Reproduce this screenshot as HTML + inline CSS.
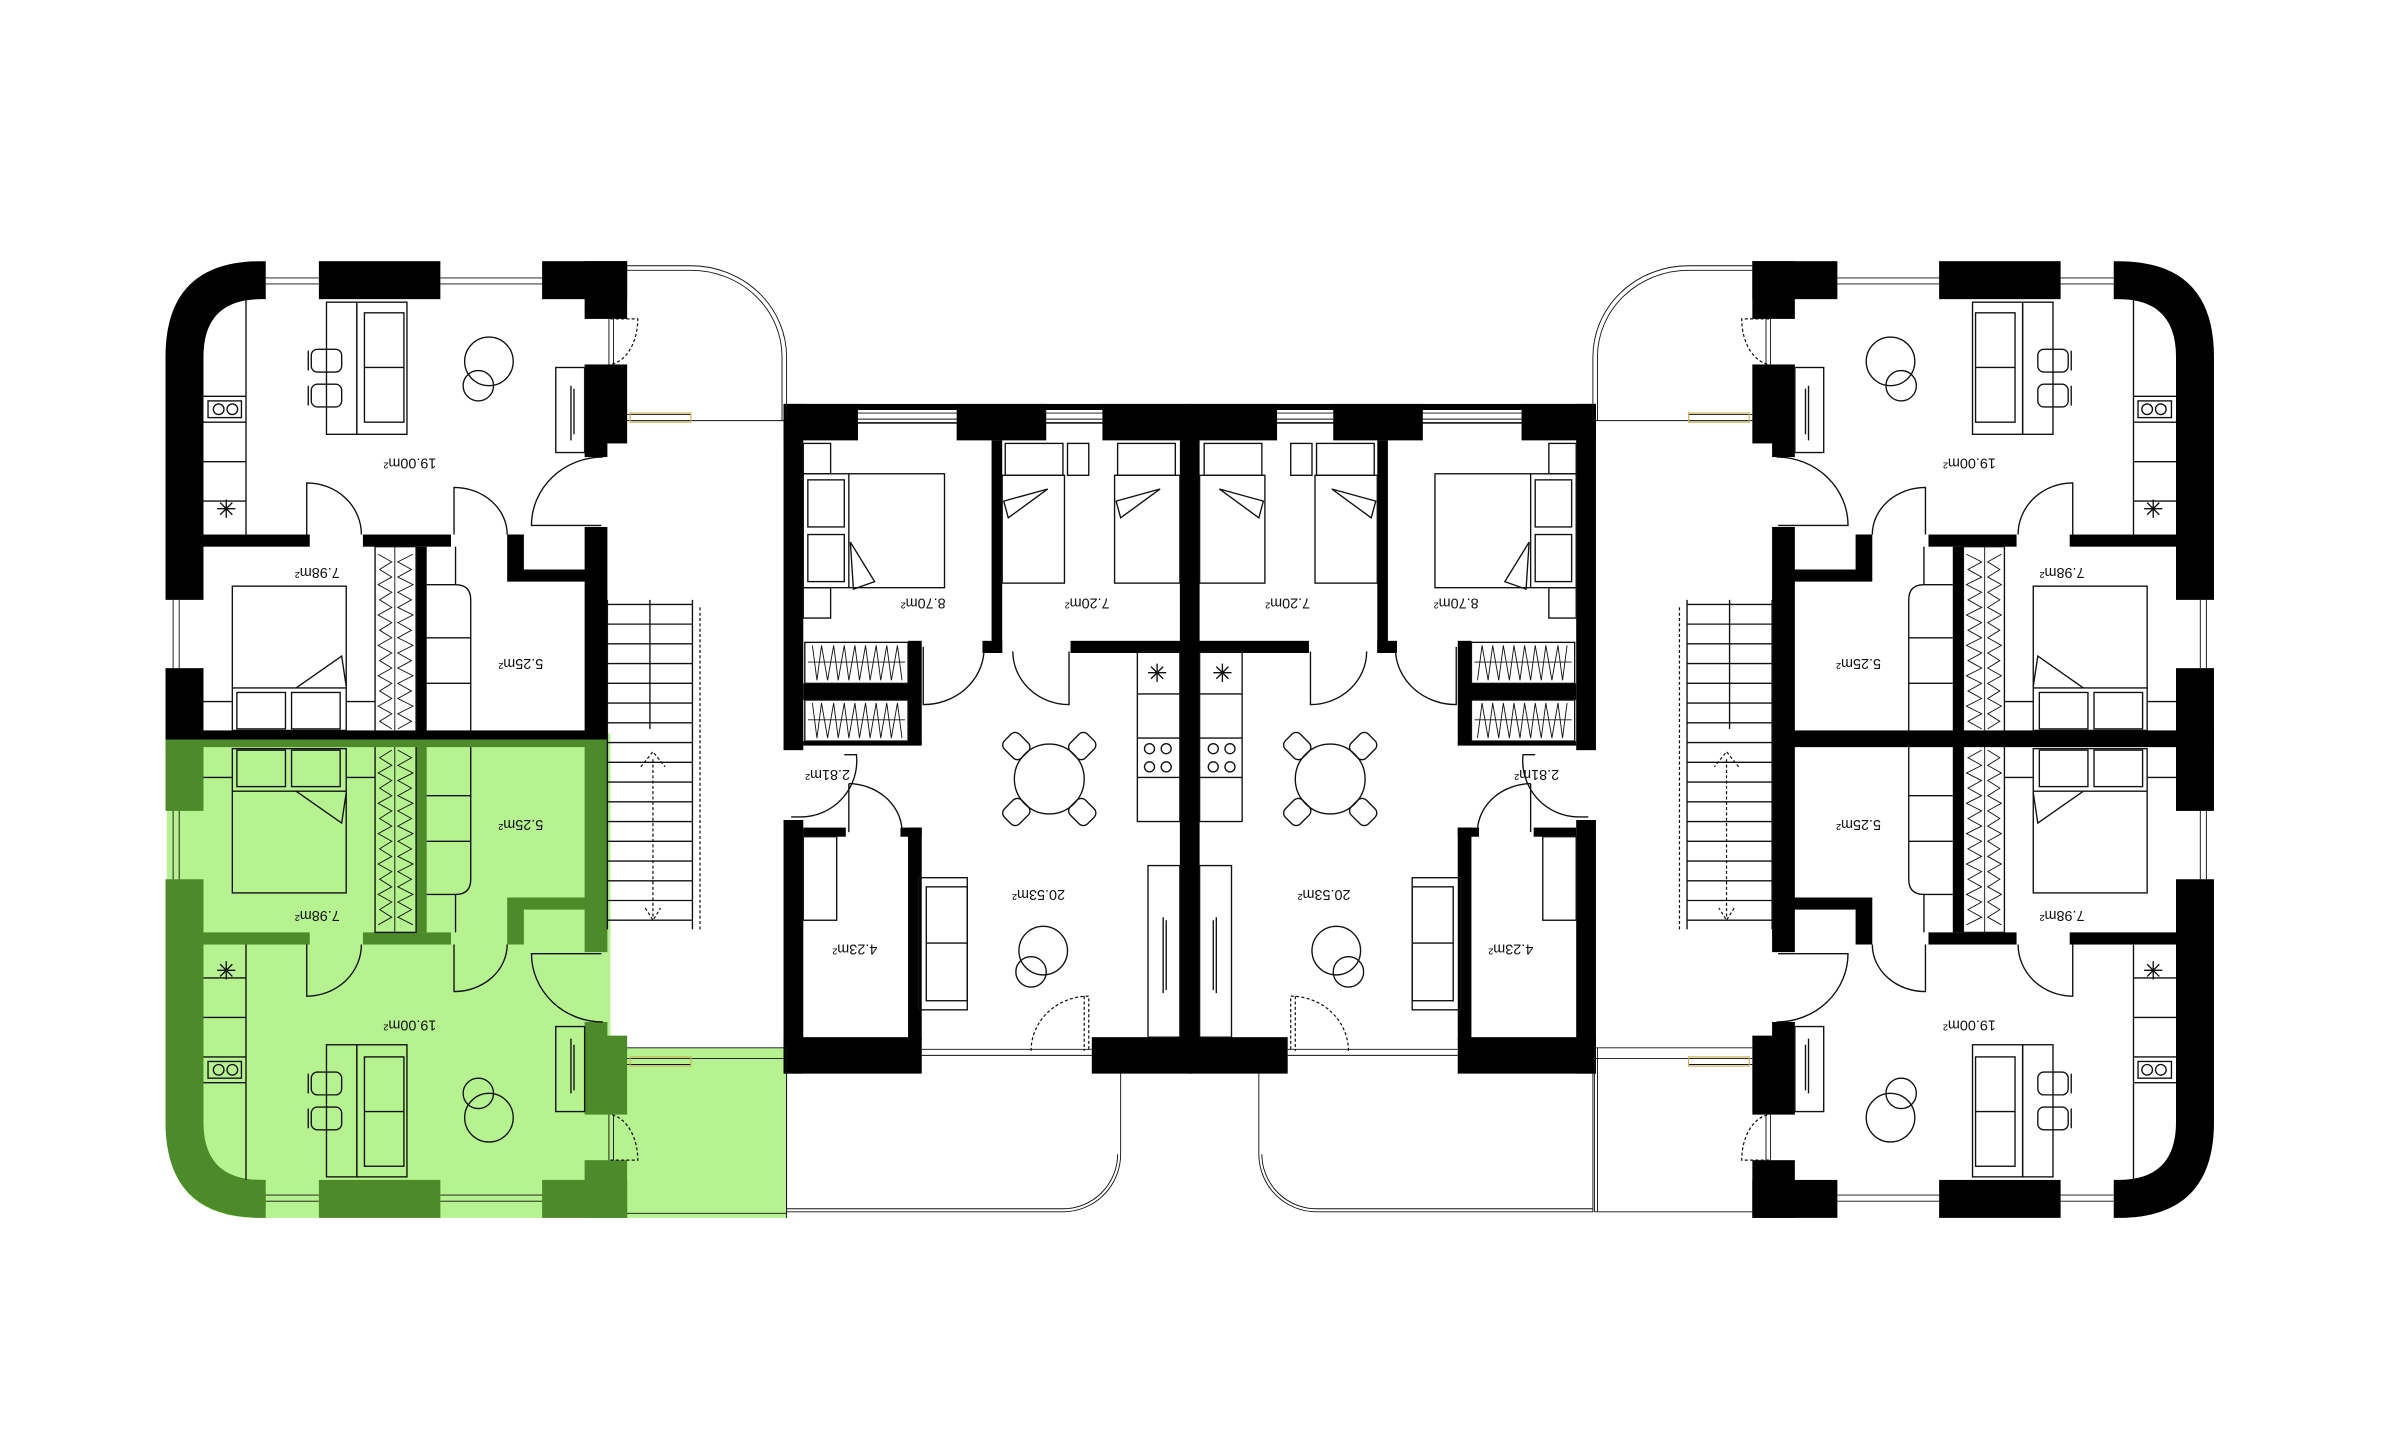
<!DOCTYPE html>
<html><head><meta charset="utf-8"><style>
html,body{margin:0;padding:0;background:#fff}
svg{display:block}
text{font-family:"Liberation Sans",sans-serif;font-size:9.5px;fill:#111}
.l{fill:none;stroke:#111;stroke-width:0.9}
.t{fill:none;stroke:#111;stroke-width:0.6}
.d{fill:none;stroke:#111;stroke-width:0.8;stroke-dasharray:2 1.5}
.w{fill:var(--w,#000)}
</style></head><body>
<svg width="2381" height="1437" viewBox="0 0 1568 946.3" preserveAspectRatio="none" xmlns="http://www.w3.org/2000/svg">
<defs>
<g id="apt">
  <path class="w" d="M109,395 V235 Q109,172 172,172 H175 V197 H172 Q134,197 134,235 V395 Z"/>
  <rect class="w" x="109" y="440" width="25" height="48"/>
  <rect class="w" x="210" y="172" width="80" height="25"/>
  <rect class="w" x="357" y="172" width="56" height="25"/>
  <rect class="w" x="385" y="172" width="28" height="38"/>
  <rect class="w" x="385" y="240" width="28" height="52"/>
  <rect class="w" x="385" y="290" width="15" height="11"/>
  <path class="t" d="M175,183 H210 M175,187 H210 M290,183 H357 M290,187 H357 M114,395 V440 M118,395 V440"/>
  <path class="t" d="M413,277 H518 M413,273 H455"/>
  <rect x="415" y="272" width="40" height="6" fill="none" stroke="#c9b45a" stroke-width="0.8"/>
  <path class="d" d="M402,210 H420 A 20 30 0 0 1 402,240"/>
  <path class="t" d="M401,210 V240 M404,210 V240"/>
  <rect class="w" x="134" y="352" width="70" height="8"/>
  <rect class="w" x="239" y="352" width="58" height="8"/>
  <path class="w" d="M334,352 H345 V375 H392 V383 H334 Z"/>
  <rect class="w" x="385" y="347" width="15" height="141"/>
  <rect class="w" x="274" y="360" width="7" height="128"/>
  <path class="l" d="M162,197 V352 M134,261 H162 M134,278 H162 M134,304 H162 M134,330 H162"/>
  <rect class="l" x="137" y="264" width="22" height="11"/>
  <circle class="l" cx="144" cy="269.5" r="3.5"/><circle class="l" cx="153" cy="269.5" r="3.5"/>
  <path class="l" d="M143,335 h12 M149,329 v12 M145,331 l8,8 M153,331 l-8,8"/>
  <rect class="l" x="215" y="199" width="20" height="87"/>
  <rect class="l" x="235" y="199" width="33" height="87"/>
  <rect class="l" x="240" y="206" width="26" height="72"/>
  <path class="l" d="M240,242 H266"/>
  <rect class="l" x="205" y="230" width="20" height="15" rx="4"/>
  <rect class="l" x="205" y="253" width="20" height="15" rx="4"/>
  <path class="l" d="M203,231 V244 M203,254 V267"/>
  <circle class="l" cx="315" cy="254" r="10" fill="#fff"/>
  <circle class="l" cx="322" cy="238" r="16" style="fill:transparent"/>
  <rect class="l" x="366" y="242" width="19" height="56"/>
  <path class="l" d="M376,254 V290 M378,256 V286"/>
  <path class="l" d="M202,352 V318 A 36 34 0 0 1 238,352"/>
  <path class="l" d="M299,352 V321 A 35 31 0 0 1 334,352"/>
  <path class="l" d="M397,301 A 47 45 0 0 0 350,346 H396"/>
  <rect class="l" x="153" y="386" width="75" height="95"/>
  <path class="l" d="M153,453 H228"/>
  <rect class="l" x="156" y="456" width="32" height="24"/>
  <rect class="l" x="192" y="456" width="32" height="24"/>
  <path class="l" d="M195,453 L225,432 L228,452"/>
  <path class="l" d="M134,462 H153 M228,462 H247"/>
  <rect class="l" x="247" y="360" width="27" height="128"/>
  <path class="t" d="M260,360 V488 M249,365 L258,370 L250,375 L258,380 L249,385 L258,390 L250,395 L258,400 L249,405 L258,410 L250,415 L258,420 L249,425 L258,430 L250,435 L258,440 L249,445 L258,450 L250,455 L258,460 L249,465 L258,470 L250,475 L258,480 M272,365 L262,370 L271,375 L262,380 L272,385 L262,390 L271,395 L262,400 L272,405 L262,410 L271,415 L262,420 L272,425 L262,430 L271,435 L262,440 L272,445 L262,450 L271,455 L262,460 L272,465 L262,470 L271,475 L262,480"/>
  <path class="l" d="M281,385 H300 Q310,385 310,395 V488 M281,420 H310 M281,450 H310 M300,360 V385"/>
</g>
<g id="stair">
  <path class="l" d="M400,395 V612 M456,395 V612 M428,395 V480"/>
  <path class="d" d="M461,400 V612"/>
  <path class="l" d="M400,398 H456 M400,411 H456 M400,424 H456 M400,437 H456 M400,450 H456 M400,463 H456 M400,476 H456 M400,489 H456 M400,502 H456 M400,515 H456 M400,528 H456 M400,541 H456 M400,554 H456 M400,567 H456 M400,580 H456 M400,593 H456 M400,606 H456"/>
  <path class="d" d="M430,500 V605 M425,598 L430,606 L435,598 M422,505 L430,495 L438,505"/>
</g>
<g id="center">
  <rect class="w" x="516" y="266" width="13" height="228"/>
  <rect class="w" x="516" y="266" width="268" height="13"/>
  <rect class="w" x="516" y="266" width="49" height="24"/>
  <rect class="w" x="630" y="266" width="59" height="24"/>
  <rect class="w" x="726" y="266" width="58" height="24"/>
  <rect x="565" y="270" width="65" height="8" fill="#fff"/><rect x="689" y="270" width="37" height="8" fill="#fff"/>
  <path class="t" d="M565,272 H630 M565,276 H630 M689,272 H726 M689,276 H726"/>
  <rect class="w" x="653" y="290" width="7" height="140"/>
  <rect class="w" x="647" y="422" width="13" height="8"/>
  <rect class="w" x="705" y="422" width="80" height="8"/>
  <rect class="w" x="777" y="279" width="7" height="426"/>
  <rect class="w" x="598" y="422" width="9" height="68"/>
  <rect class="w" x="529" y="450" width="70" height="11"/>
  <rect class="w" x="529" y="488" width="78" height="3"/>
  <rect class="l" x="530" y="423" width="68" height="27"/>
  <rect class="l" x="530" y="461" width="68" height="27"/>
  <path class="t" d="M532,436 H596 M532,474 H596 M535,425 L538,448 L541,425 L545,448 L549,425 L552,448 L556,425 L559,448 L563,425 L566,448 L570,425 L573,448 L577,425 L580,448 L584,425 L587,448 L591,425 L594,448 M535,463 L538,486 L541,463 L545,486 L549,463 L552,486 L556,463 L559,486 L563,463 L566,486 L570,463 L573,486 L577,463 L580,486 L584,463 L587,486 L591,463 L594,486"/>
  <rect class="w" x="516" y="540" width="13" height="167"/>
  <rect class="w" x="529" y="545" width="28" height="6"/>
  <rect class="w" x="593" y="545" width="14" height="6"/>
  <rect class="w" x="598" y="545" width="9" height="140"/>
  <rect class="w" x="516" y="683" width="91" height="24"/>
  <rect class="w" x="719" y="683" width="66" height="24"/>
  <path class="t" d="M607,691 H719 M607,695 H719"/>
  <rect class="l" x="529" y="551" width="22" height="55"/>
  <path class="l" d="M608,426 V464 A 40 37 0 0 0 648,429"/>
  <path class="l" d="M704,429 V464 A 37 35 0 0 1 667,429"/>
  <path class="l" d="M521,538 H527 A 37 37 0 0 0 564,497 H556"/>
  <path class="l" d="M559,516 V548 M559,516 A 36 32 0 0 1 594,546"/>
  <path class="d" d="M679,692 A 38 36 0 0 1 717,656 V692 M714,656 V692"/>
  <rect class="l" x="749" y="429" width="28" height="112"/>
  <path class="l" d="M749,457 H777 M749,486 H777 M749,512 H777"/>
  <path class="l" d="M756,443 h12 M762,437 v12 M758,439 l8,8 M766,439 l-8,8"/>
  <circle class="l" cx="757" cy="493" r="3.3"/><circle class="l" cx="768" cy="493" r="3.3"/>
  <circle class="l" cx="757" cy="505" r="3.3"/><circle class="l" cx="768" cy="505" r="3.3"/>
  <rect class="l" x="756" y="570" width="21" height="113"/>
  <path class="l" d="M766,604 V654 M768,606 V652"/>
  <circle class="l" cx="691" cy="513" r="23"/>
  <g class="l">
    <rect x="-7" y="-9" width="14" height="16" rx="4" transform="translate(670,492) rotate(-45)"/>
    <rect x="-7" y="-9" width="14" height="16" rx="4" transform="translate(712,492) rotate(45)"/>
    <rect x="-7" y="-9" width="14" height="16" rx="4" transform="translate(670,534) rotate(-135)"/>
    <rect x="-7" y="-9" width="14" height="16" rx="4" transform="translate(712,534) rotate(135)"/>
  </g>
  <rect class="l" x="605" y="578" width="32" height="87"/>
  <rect class="l" x="610" y="584" width="27" height="75"/>
  <path class="l" d="M610,621 H637"/>
  <circle class="l" cx="679" cy="640" r="10"/>
  <circle class="l" cx="687" cy="626" r="16" style="fill:transparent"/>
  <rect class="l" x="529" y="312" width="93" height="75"/>
  <path class="l" d="M559,312 V387"/>
  <rect class="l" x="532" y="316" width="24" height="31"/>
  <rect class="l" x="532" y="352" width="24" height="31"/>
  <path class="l" d="M560,357 L562,388 L576,383 Z"/>
  <rect class="l" x="529" y="292" width="18" height="20"/>
  <rect class="l" x="529" y="387" width="18" height="20"/>
  <rect class="l" x="660" y="313" width="41" height="71"/>
  <rect class="l" x="662" y="292" width="38" height="21"/>
  <rect class="l" x="734" y="313" width="43" height="71"/>
  <rect class="l" x="736" y="292" width="38" height="21"/>
  <rect class="l" x="703" y="292" width="14" height="21"/>
  <path class="l" d="M661,330 L690,322 L664,341 Z M735,330 L764,322 L738,341 Z"/>
  <path class="t" d="M518,707 V798 H700 A 38 38 0 0 0 738,760 V707 M518,707 V796 H700 A 36 36 0 0 0 736,760"/>
</g>
</defs>

<path d="M110,483 H402 V690 H518 V802 H170 Q110,802 110,742 Z" fill="#b6f28f"/>

<use href="#apt"/>
<use href="#apt" transform="translate(0,974) scale(1,-1)" style="--w:#4d8a2a"/>
<use href="#apt" transform="translate(1567,0) scale(-1,1)"/>
<use href="#apt" transform="translate(1567,974) scale(-1,-1)"/>

<rect x="109" y="481" width="291" height="6" fill="#000"/>
<rect x="109" y="487" width="291" height="5" fill="#4d8a2a"/>
<rect x="1167" y="481" width="291" height="11" fill="#000"/>

<use href="#stair"/>
<use href="#stair" transform="translate(1567,0) scale(-1,1)"/>

<use href="#center"/>
<use href="#center" transform="translate(1567,0) scale(-1,1)"/>

<path class="t" d="M413,175 H455 A 63 60 0 0 1 518,235 V277 M413,178 H455 A 60 57 0 0 1 515,235 V277"/>
<path class="t" d="M1154,175 H1112 A 63 60 0 0 0 1049,235 V277 M1154,178 H1112 A 60 57 0 0 0 1052,235 V277"/>
<path class="t" d="M413,690 H518 V802 M1154,690 H1050 V798 H1154 M1052,690 V798"/>
<path class="t" d="M413,799 H518"/>

<g>
<text transform="translate(270,302) rotate(180)" text-anchor="middle">19.00m²</text>
<text transform="translate(209,374) rotate(180)" text-anchor="middle">7.98m²</text>
<text transform="translate(343,434) rotate(180)" text-anchor="middle">5.25m²</text>
<text transform="translate(270,672) rotate(180)" text-anchor="middle">19.00m²</text>
<text transform="translate(209,600) rotate(180)" text-anchor="middle">7.98m²</text>
<text transform="translate(343,540) rotate(180)" text-anchor="middle">5.25m²</text>
<text transform="translate(1297,302) rotate(180)" text-anchor="middle">19.00m²</text>
<text transform="translate(1358,374) rotate(180)" text-anchor="middle">7.98m²</text>
<text transform="translate(1224,434) rotate(180)" text-anchor="middle">5.25m²</text>
<text transform="translate(1297,672) rotate(180)" text-anchor="middle">19.00m²</text>
<text transform="translate(1358,600) rotate(180)" text-anchor="middle">7.98m²</text>
<text transform="translate(1224,540) rotate(180)" text-anchor="middle">5.25m²</text>
<text transform="translate(608,394) rotate(180)" text-anchor="middle">8.70m²</text>
<text transform="translate(716,394) rotate(180)" text-anchor="middle">7.20m²</text>
<text transform="translate(545,507) rotate(180)" text-anchor="middle">2.81m²</text>
<text transform="translate(684,586) rotate(180)" text-anchor="middle">20.53m²</text>
<text transform="translate(563,622) rotate(180)" text-anchor="middle">4.23m²</text>
<text transform="translate(959,394) rotate(180)" text-anchor="middle">8.70m²</text>
<text transform="translate(848,394) rotate(180)" text-anchor="middle">7.20m²</text>
<text transform="translate(1012,507) rotate(180)" text-anchor="middle">2.81m²</text>
<text transform="translate(872,586) rotate(180)" text-anchor="middle">20.53m²</text>
<text transform="translate(995,622) rotate(180)" text-anchor="middle">4.23m²</text>
</g>
</svg>
</body></html>
